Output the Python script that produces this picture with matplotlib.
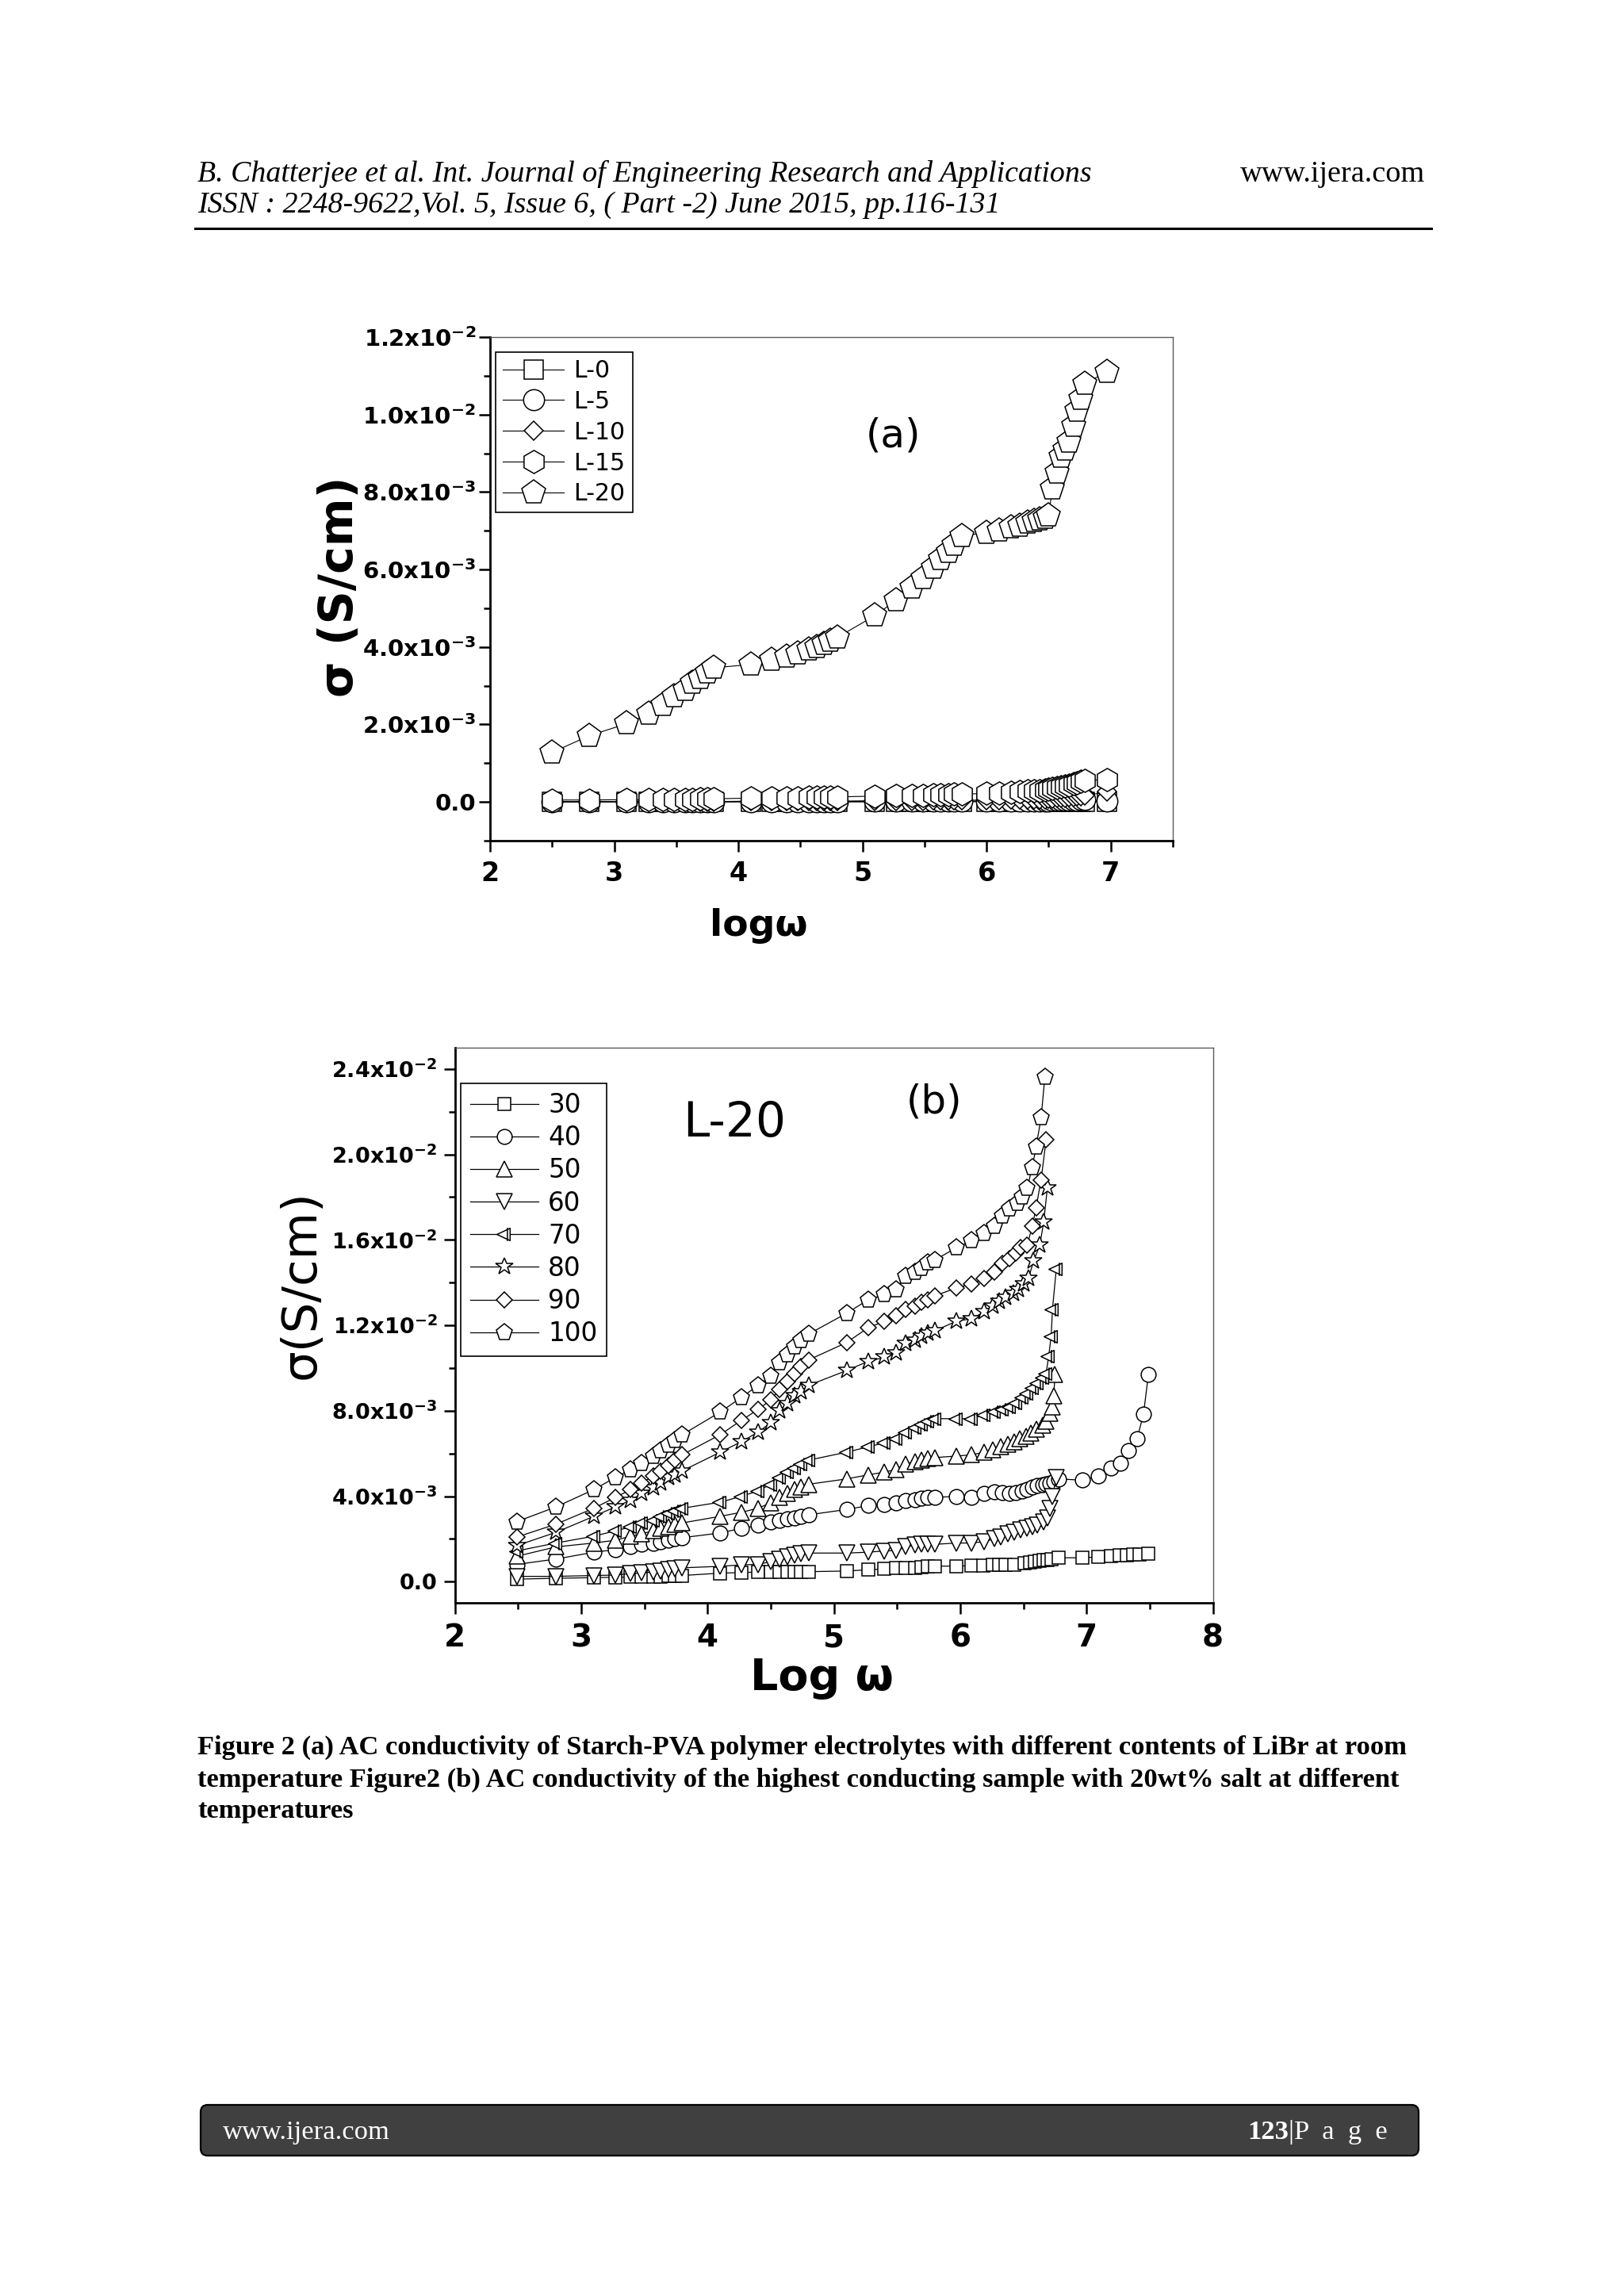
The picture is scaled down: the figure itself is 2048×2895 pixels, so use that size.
import numpy as np
import matplotlib
matplotlib.use("Agg")
import matplotlib.pyplot as plt
from matplotlib.path import Path
from matplotlib.lines import Line2D
from matplotlib.patches import FancyBboxPatch
from matplotlib.ticker import MultipleLocator

W, H = 2048, 2895
plt.rcParams["mathtext.default"] = "bf"
plt.rcParams["font.family"] = "DejaVu Sans"
SERIF = "Liberation Serif"

# ---------------- panel (a): sigma vs log(omega) for LiBr content ----------------
A_X = [2.50, 2.80, 3.10, 3.28, 3.39, 3.48, 3.57, 3.63, 3.69, 3.75, 3.80,
       4.10, 4.27, 4.39, 4.48, 4.57, 4.63, 4.69, 4.74, 4.80,
       5.10, 5.27, 5.40, 5.49, 5.57, 5.63, 5.69, 5.74, 5.80,
       6.00, 6.10, 6.20, 6.27, 6.33, 6.38, 6.43, 6.47, 6.50,
       6.53, 6.57, 6.60, 6.63, 6.66, 6.70, 6.73, 6.76, 6.79, 6.97]
# conductivities in units of 1e-3 S/cm
A_L0 = [0.00, 0.00, 0.00, 0.00, 0.00, 0.00, 0.00, 0.00, 0.00, 0.00, 0.00,
        0.00, 0.00, 0.00, 0.00, 0.00, 0.00, 0.00, 0.00, 0.00,
        0.00, 0.00, 0.00, 0.00, 0.00, 0.00, 0.00, 0.00, 0.00,
        0.01, 0.01, 0.01, 0.01, 0.01, 0.01, 0.01, 0.01, 0.01,
        0.01, 0.01, 0.01, 0.01, 0.01, 0.01, 0.01, 0.01, 0.01, 0.01]
A_L5 = [0.01, 0.01, 0.01, 0.01, 0.01, 0.01, 0.01, 0.01, 0.01, 0.01, 0.01,
        0.01, 0.01, 0.01, 0.01, 0.01, 0.01, 0.01, 0.01, 0.01,
        0.02, 0.02, 0.02, 0.02, 0.02, 0.02, 0.02, 0.02, 0.02,
        0.02, 0.02, 0.03, 0.03, 0.03, 0.03, 0.03, 0.03, 0.03,
        0.04, 0.04, 0.04, 0.04, 0.05, 0.05, 0.05, 0.06, 0.06, 0.02]
A_L10 = [0.00, 0.00, 0.01, 0.01, 0.01, 0.01, 0.01, 0.01, 0.01, 0.01, 0.01,
         0.02, 0.02, 0.02, 0.02, 0.02, 0.02, 0.02, 0.02, 0.02,
         0.03, 0.03, 0.03, 0.03, 0.04, 0.04, 0.04, 0.04, 0.04,
         0.05, 0.05, 0.06, 0.06, 0.06, 0.07, 0.07, 0.07, 0.08,
         0.09, 0.10, 0.10, 0.11, 0.12, 0.13, 0.14, 0.15, 0.16, 0.26]
A_L15 = [0.05, 0.05, 0.06, 0.06, 0.06, 0.07, 0.07, 0.07, 0.08, 0.08, 0.08,
         0.10, 0.10, 0.11, 0.11, 0.12, 0.12, 0.12, 0.13, 0.13,
         0.15, 0.16, 0.17, 0.17, 0.18, 0.19, 0.19, 0.20, 0.20,
         0.22, 0.23, 0.25, 0.26, 0.28, 0.29, 0.30, 0.32, 0.33,
         0.36, 0.38, 0.40, 0.42, 0.44, 0.47, 0.50, 0.53, 0.56, 0.57]
A_L20 = [1.28, 1.71, 2.02, 2.28, 2.50, 2.73, 2.90, 3.08, 3.20, 3.35, 3.46,
         3.55, 3.66, 3.75, 3.84, 3.93, 4.00, 4.08, 4.15, 4.25,
         4.81, 5.20, 5.54, 5.77, 6.05, 6.27, 6.45, 6.64, 6.87,
         6.95, 7.00, 7.08, 7.13, 7.20, 7.25, 7.30, 7.33, 7.40,
         8.10, 8.50, 8.90, 9.10, 9.30, 9.70, 10.10, 10.40, 10.80, 11.10]
A_LABELS = ["L-0", "L-5", "L-10", "L-15", "L-20"]
A_XTICKS = [2, 3, 4, 5, 6, 7]
A_XTICKLABELS = ["2", "3", "4", "5", "6", "7"]
A_YTICKS = [0.0, 2e-3, 4e-3, 6e-3, 8e-3, 1.0e-2, 1.2e-2]
A_YTICKLABELS = ["0.0", "2.0x10$^{-3}$", "4.0x10$^{-3}$", "6.0x10$^{-3}$",
                 "8.0x10$^{-3}$", "1.0x10$^{-2}$", "1.2x10$^{-2}$"]

# ---------------- panel (b): L-20 at different temperatures ----------------
B_X = [2.49, 2.80, 3.10, 3.27, 3.39, 3.48, 3.57, 3.63, 3.69, 3.74, 3.80,
       4.10, 4.27, 4.40, 4.50, 4.57, 4.63, 4.69, 4.74, 4.80,
       5.10, 5.27, 5.40, 5.49, 5.57, 5.64, 5.69, 5.74, 5.80, 5.97, 6.09]

B30_Y = [0.12, 0.16, 0.19, 0.21, 0.22, 0.24, 0.25, 0.25, 0.26, 0.28, 0.29,
         0.40, 0.43, 0.45, 0.46, 0.46, 0.46, 0.46, 0.47, 0.47,
         0.50, 0.56, 0.59, 0.63, 0.64, 0.66, 0.68, 0.70, 0.73, 0.73, 0.75]
B30_TX = [6.18, 6.26, 6.31, 6.36, 6.43, 6.51, 6.55, 6.59, 6.63, 6.66, 6.69,
          6.72, 6.78, 6.97, 7.09, 7.19, 7.26, 7.32, 7.37, 7.42, 7.49]
B30_TY = [0.76, 0.79, 0.79, 0.80, 0.81, 0.88, 0.91, 0.94, 0.97, 1.00, 1.03,
          1.06, 1.12, 1.12, 1.16, 1.21, 1.22, 1.25, 1.27, 1.29, 1.31]

B40_Y = [0.81, 1.06, 1.38, 1.50, 1.63, 1.75, 1.81, 1.88, 1.94, 2.00, 2.06,
         2.28, 2.50, 2.63, 2.81, 2.88, 2.94, 3.00, 3.06, 3.13,
         3.38, 3.56, 3.63, 3.69, 3.81, 3.85, 3.90, 3.94, 3.94, 4.00, 3.94]
B40_TX = [6.19, 6.27, 6.33, 6.39, 6.44, 6.49, 6.53, 6.57, 6.61, 6.65, 6.68,
          6.71, 6.74, 6.78, 6.97, 7.09, 7.19, 7.27, 7.33, 7.40, 7.45, 7.49]
B40_TY = [4.13, 4.19, 4.16, 4.13, 4.16, 4.25, 4.31, 4.44, 4.50, 4.56, 4.59,
          4.63, 4.69, 4.81, 4.75, 4.96, 5.31, 5.56, 6.13, 6.69, 7.84, 9.71]

B50_Y = [1.19, 1.63, 1.81, 1.94, 2.13, 2.25, 2.38, 2.50, 2.56, 2.69, 2.75,
         3.06, 3.25, 3.44, 3.69, 3.94, 4.13, 4.31, 4.44, 4.56,
         4.81, 5.00, 5.13, 5.25, 5.50, 5.63, 5.69, 5.75, 5.81, 5.88, 5.94]
B50_TX = [6.19, 6.26, 6.32, 6.38, 6.43, 6.47, 6.52, 6.56, 6.60, 6.65, 6.68,
          6.71, 6.73, 6.74, 6.75]
B50_TY = [6.06, 6.19, 6.31, 6.44, 6.56, 6.69, 6.81, 6.94, 7.13, 7.31, 7.50,
          7.88, 8.19, 8.69, 9.69]

B60_Y = [0.25, 0.25, 0.29, 0.31, 0.38, 0.41, 0.46, 0.50, 0.56, 0.60, 0.65,
         0.72, 0.79, 0.81, 0.94, 1.06, 1.16, 1.25, 1.31, 1.34,
         1.34, 1.38, 1.44, 1.46, 1.63, 1.71, 1.75, 1.75, 1.75, 1.81, 1.81]
B60_TX = [6.19, 6.27, 6.32, 6.38, 6.43, 6.48, 6.53, 6.57, 6.61, 6.66, 6.69,
          6.71, 6.73, 6.76]
B60_TY = [1.88, 2.00, 2.10, 2.25, 2.31, 2.41, 2.50, 2.56, 2.66, 2.81, 3.00,
          3.44, 4.00, 4.88]

B70_Y = [1.44, 1.81, 2.13, 2.38, 2.56, 2.75, 2.88, 3.06, 3.19, 3.31, 3.44,
         3.72, 4.00, 4.25, 4.56, 4.88, 5.13, 5.31, 5.50, 5.69,
         6.06, 6.31, 6.50, 6.69, 7.00, 7.20, 7.38, 7.50, 7.63, 7.63, 7.63]
B70_TX = [6.19, 6.27, 6.33, 6.39, 6.44, 6.49, 6.53, 6.57, 6.61, 6.65, 6.68,
          6.70, 6.72, 6.73, 6.76]
B70_TY = [7.81, 7.94, 8.06, 8.19, 8.38, 8.63, 8.81, 9.06, 9.31, 9.56, 9.75,
          10.56, 11.50, 12.75, 14.63]

B80_Y = [1.69, 2.31, 3.06, 3.50, 3.81, 4.13, 4.38, 4.63, 4.88, 5.00, 5.19,
         6.06, 6.56, 7.00, 7.44, 8.00, 8.31, 8.69, 8.88, 9.19,
         9.88, 10.31, 10.50, 10.69, 11.13, 11.31, 11.50, 11.63, 11.75, 12.19, 12.31]
B80_TX = [6.19, 6.26, 6.31, 6.36, 6.42, 6.46, 6.50, 6.54, 6.58, 6.63, 6.66, 6.69]
B80_TY = [12.63, 12.88, 13.13, 13.31, 13.50, 13.69, 13.94, 14.19, 15.00, 15.75,
          16.81, 18.44]

B90_Y = [2.09, 2.69, 3.44, 3.94, 4.31, 4.63, 4.94, 5.19, 5.44, 5.69, 5.94,
         6.88, 7.56, 8.06, 8.50, 9.00, 9.38, 9.75, 10.06, 10.38,
         11.19, 11.88, 12.19, 12.44, 12.75, 12.88, 13.06, 13.20, 13.38, 13.75, 13.94]
B90_TX = [6.19, 6.27, 6.33, 6.39, 6.44, 6.48, 6.53, 6.57, 6.60, 6.64, 6.68]
B90_TY = [14.19, 14.50, 14.88, 15.13, 15.38, 15.63, 15.75, 16.63, 17.50, 18.81, 20.69]

B100_Y = [2.81, 3.50, 4.31, 4.88, 5.25, 5.56, 5.88, 6.13, 6.38, 6.63, 6.88,
          7.94, 8.63, 9.19, 9.63, 10.25, 10.63, 11.00, 11.31, 11.59,
          12.56, 13.19, 13.44, 13.69, 14.31, 14.50, 14.69, 14.94, 15.06, 15.63, 15.96]
B100_TX = [6.19, 6.27, 6.33, 6.39, 6.45, 6.49, 6.53, 6.57, 6.60, 6.64, 6.67]
B100_TY = [16.31, 16.63, 17.13, 17.44, 17.71, 18.03, 18.41, 19.40, 20.34, 21.71, 23.63]

B_LABELS = ["30", "40", "50", "60", "70", "80", "90", "100"]
B_XTICKS = [2, 3, 4, 5, 6, 7, 8]
B_XTICKLABELS = ["2", "3", "4", "5", "6", "7", "8"]
B_YTICKS = [0.0, 4e-3, 8e-3, 1.2e-2, 1.6e-2, 2.0e-2, 2.4e-2]
B_YTICKLABELS = ["0.0", "4.0x10$^{-3}$", "8.0x10$^{-3}$", "1.2x10$^{-2}$",
                 "1.6x10$^{-2}$", "2.0x10$^{-2}$", "2.4x10$^{-2}$"]

HEADER_1 = "B. Chatterjee et al. Int. Journal of Engineering Research and Applications"
HEADER_2 = "ISSN : 2248-9622,Vol. 5, Issue 6, ( Part -2) June 2015, pp.116-131"
CAPTION = ["Figure 2 (a) AC conductivity of Starch-PVA polymer electrolytes with different contents of LiBr at room",
           "temperature Figure2 (b) AC conductivity of the highest conducting sample with 20wt% salt at different",
           "temperatures"]


def fx(x):
    return x / W


def fy(y):
    return 1 - y / H


# left triangle with a vertical bar (Origin style symbol for 70)
TRI_BAR = Path([(-1.0, 0.0), (0.7, 0.8), (0.7, -0.8), (-1.0, 0.0),
                (0.35, 0.85), (0.35, -0.85)],
               [Path.MOVETO, Path.LINETO, Path.LINETO, Path.CLOSEPOLY,
                Path.MOVETO, Path.LINETO])


def style_axes(ax):
    for s in ("left", "bottom"):
        ax.spines[s].set_linewidth(2.0)
        ax.spines[s].set_color("black")
    for s in ("top", "right"):
        ax.spines[s].set_linewidth(1.0)
        ax.spines[s].set_color("#5a5a5a")
    ax.tick_params(which="major", direction="out", length=10, width=1.8,
                   top=False, right=False)
    ax.tick_params(which="minor", direction="out", length=5.5, width=1.8,
                   top=False, right=False)


fig = plt.figure(figsize=(W / 100, H / 100), dpi=100)

# ---- page header ----
fig.text(fx(249), fy(229), HEADER_1, family=SERIF, style="italic", size=27.3,
         ha="left", va="baseline")
fig.text(fx(1797), fy(229), "www.ijera.com", family=SERIF, size=27.5,
         ha="right", va="baseline")
fig.text(fx(249), fy(268), HEADER_2, family=SERIF, style="italic", size=27.3,
         ha="left", va="baseline")
fig.add_artist(Line2D([fx(246), fx(1805)], [fy(288), fy(288)], lw=2.2, color="black"))

# ---- panel (a) ----
axA = fig.add_axes([618 / W, 1 - 1060 / H, 861 / W, 635 / H])
a_series = [A_L0, A_L5, A_L10, A_L15, A_L20]
a_marks = [("s", 17), ("o", 19), ("D", 12.5), ("h", 21), ("p", 22.5)]
for ys, lab, (mk, ms) in zip(a_series, A_LABELS, a_marks):
    axA.plot(A_X, np.array(ys) * 1e-3, color="black", lw=0.8, marker=mk, ms=ms,
             mfc="white", mec="black", mew=1.1, label=lab)
axA.set_xlim(2, 7.5)
axA.set_ylim(-1e-3, 1.2e-2)
axA.set_xticks(A_XTICKS)
axA.set_xticklabels(A_XTICKLABELS, fontsize=24, fontweight="bold")
axA.set_yticks(A_YTICKS)
axA.set_yticklabels(A_YTICKLABELS, fontsize=21, fontweight="bold")
axA.xaxis.set_minor_locator(MultipleLocator(0.5))
axA.yaxis.set_minor_locator(MultipleLocator(1e-3))
style_axes(axA)
axA.tick_params(axis="x", pad=8)
axA.tick_params(axis="y", pad=3)
legA = axA.legend(loc="upper left", bbox_to_anchor=(0.008, 0.970), borderaxespad=0,
                  fontsize=21.5, fancybox=False, edgecolor="black", framealpha=1,
                  handlelength=2.6, handletextpad=0.4, labelspacing=0.33,
                  borderpad=0.3, numpoints=1)
legA.get_frame().set_linewidth(1.2)
fig.text(fx(1126), fy(550), "(a)", fontsize=36, ha="center", va="center")
fig.text(fx(957), fy(1167), "log\u03c9", fontsize=34, fontweight="bold",
         ha="center", va="center")
fig.text(fx(428), fy(740), "\u03c3 (S/cm)", fontsize=42, fontweight="bold",
         ha="center", va="center", rotation=90)

# ---- panel (b) ----
axB = fig.add_axes([573.6 / W, 1 - 2021.3 / H, 956 / W, 700.5 / H])
b_series = [
    (B_X + B30_TX, B30_Y + B30_TY, "s", 12),
    (B_X + B40_TX, B40_Y + B40_TY, "o", 13.5),
    (B_X + B50_TX, B50_Y + B50_TY, "^", 14),
    (B_X + B60_TX, B60_Y + B60_TY, "v", 14),
    (B_X + B70_TX, B70_Y + B70_TY, TRI_BAR, 14),
    (B_X + B80_TX, B80_Y + B80_TY, "*", 16.5),
    (B_X + B90_TX, B90_Y + B90_TY, "D", 10.5),
    (B_X + B100_TX, B100_Y + B100_TY, "p", 15.5),
]
for (xs, ys, mk, ms), lab in zip(b_series, B_LABELS):
    axB.plot(xs, np.array(ys) * 1e-3, color="black", lw=0.9, marker=mk, ms=ms,
             mfc="white", mec="black", mew=1.1, label=lab)
axB.set_xlim(2, 8)
axB.set_ylim(-1e-3, 0.025)
axB.set_xticks(B_XTICKS)
axB.set_xticklabels(B_XTICKLABELS, fontsize=28, fontweight="bold")
axB.set_yticks(B_YTICKS)
axB.set_yticklabels(B_YTICKLABELS, fontsize=19.5, fontweight="bold")
axB.xaxis.set_minor_locator(MultipleLocator(0.5))
axB.yaxis.set_minor_locator(MultipleLocator(2e-3))
style_axes(axB)
axB.tick_params(axis="x", pad=8)
axB.tick_params(axis="y", pad=6)
legB = axB.legend(loc="upper left", bbox_to_anchor=(0.008, 0.936), borderaxespad=0,
                  fontsize=23.5, fancybox=False, edgecolor="black", framealpha=1,
                  handlelength=2.66, handletextpad=0.36, labelspacing=0.25,
                  borderpad=0.35, numpoints=1)
legB.get_frame().set_linewidth(1.2)
fig.text(fx(926), fy(1416), "L-20", fontsize=43, ha="center", va="center")
fig.text(fx(1178), fy(1389), "(b)", fontsize=36, ha="center", va="center")
fig.text(fx(1036), fy(2116), "Log \u03c9", fontsize=40, fontweight="bold",
         ha="center", va="center")
fig.text(fx(380), fy(1620), "\u03c3(S/cm)", fontsize=44,
         ha="center", va="center", rotation=90)

# ---- caption ----
for line, base in zip(CAPTION, [2212, 2253, 2292]):
    fig.text(fx(249), fy(base), line, family=SERIF, fontweight="bold", size=24.8,
             ha="left", va="baseline")

# ---- footer bar ----
bar = FancyBboxPatch((253 / 100, (H - 2718) / 100), (1789 - 253) / 100, 64 / 100,
                     boxstyle="round,pad=0,rounding_size=0.09",
                     transform=fig.dpi_scale_trans, facecolor="#404040",
                     edgecolor="black", lw=1.6)
fig.add_artist(bar)
fig.text(fx(281), fy(2697), "www.ijera.com", family=SERIF, size=24.8, color="white",
         ha="left", va="baseline")
fig.text(fx(1625), fy(2697), "123", family=SERIF, fontweight="bold", size=24.8,
         color="white", ha="right", va="baseline")
fig.text(fx(1625), fy(2697), "|P  a  g  e", family=SERIF, size=24.8, color="white",
         ha="left", va="baseline")

fig.savefig("out.png", dpi=100)
